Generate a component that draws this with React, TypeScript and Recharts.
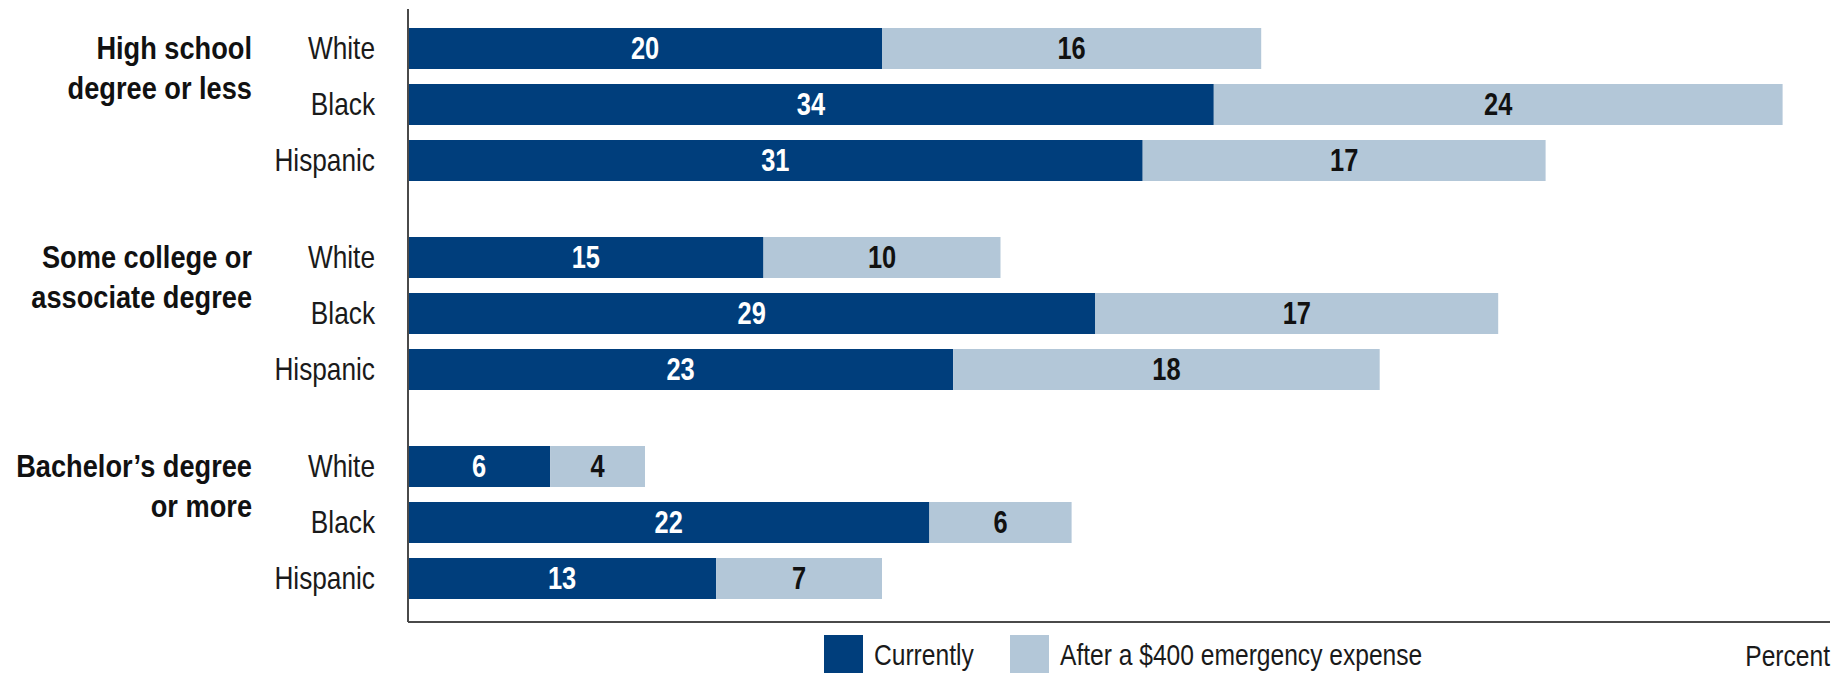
import React from 'react'
import { BarChart, Bar, XAxis, YAxis, LabelList } from 'recharts'

// no narrow face installed, so the regular face is squeezed horizontally
const FONT = "'Liberation Sans', Arial, sans-serif"
const SQUEEZE = 0.82
const DARK = '#003E7C'
const LIGHT = '#B3C7D8'
const AXIS = '#4a4a4a'

const races = ['White', 'Black', 'Hispanic']
const groupTitles = [
  ['High school', 'degree or less'],
  ['Some college or', 'associate degree'],
  ['Bachelor’s degree', 'or more'],
]
const currently = [
  [20, 34, 31],
  [15, 29, 23],
  [6, 22, 13],
]
const afterExpense = [
  [16, 24, 17],
  [10, 17, 18],
  [4, 6, 7],
]
const seriesNames = ['Currently', 'After a $400 emergency expense']
const seriesColors = [DARK, LIGHT]
const xDomain = [0, 60]

const CHART_W = 1845
const AXIS_W = 408

function CondText({ x, y, anchor = 'start', size = 32, weight = 'normal', fill = '#1a1a1a', squeeze = SQUEEZE, children }: any) {
  return (
    <text transform={`translate(${x},${y}) scale(${squeeze},1)`} dy="0.35em" textAnchor={anchor}
          fontSize={size} fontWeight={weight} fontFamily={FONT} fill={fill}>
      {children}
    </text>
  )
}

function RowTick(props: any) {
  const { x, y, payload, index, title } = props
  return (
    <g>
      <CondText x={x} y={y} anchor="end">{payload.value}</CondText>
      {index === 0 &&
        title.map((line: string, i: number) => (
          <CondText key={i} x={x - 123} y={y + i * 40} anchor="end" weight="bold" fill="#111" squeeze={0.85}>
            {line}
          </CondText>
        ))}
    </g>
  )
}

function BarValue(color: string) {
  return (p: any) => (
    <CondText x={p.x + p.width / 2} y={p.y + p.height / 2} anchor="middle" size={31} weight="bold" fill={color}>
      {p.value}
    </CondText>
  )
}

function PercentLabel({ viewBox }: any) {
  return (
    <CondText x={viewBox.x + viewBox.width} y={viewBox.y + 33} anchor="end" size={30}>
      Percent
    </CondText>
  )
}

function GroupChart({ g, top, height, marginTop, padBottom, last }: any) {
  const data = races.map((race, i) => ({
    race,
    currently: currently[g][i],
    after: afterExpense[g][i],
  }))
  return (
    <div style={{ position: 'absolute', left: 0, top }}>
      <BarChart width={CHART_W} height={height} data={data} layout="vertical"
                margin={{ top: marginTop, right: 15, bottom: 0, left: 0 }}>
        <XAxis type="number" domain={xDomain} hide={!last} tick={false} tickLine={false}
               axisLine={{ stroke: AXIS, strokeWidth: 2 }} height={last ? 52 : 0}
               label={last ? <PercentLabel /> : undefined} />
        <YAxis type="category" dataKey="race" width={AXIS_W} tickLine={false} tickSize={0} tickMargin={33}
               axisLine={{ stroke: AXIS, strokeWidth: 2 }} padding={{ top: 11, bottom: padBottom }}
               tick={(p: any) => <RowTick {...p} title={groupTitles[g]} />} />
        <Bar dataKey="currently" stackId="a" fill={DARK} barSize={41} isAnimationActive={false}>
          <LabelList dataKey="currently" content={BarValue('#fff')} />
        </Bar>
        <Bar dataKey="after" stackId="a" fill={LIGHT} barSize={41} isAnimationActive={false}>
          <LabelList dataKey="after" content={BarValue('#111')} />
        </Bar>
      </BarChart>
    </div>
  )
}

// legend swatch / label x positions
const legendX = [824, 1010]

export default function App() {
  return (
    <div style={{ position: 'absolute', left: 0, top: 0, width: CHART_W, height: 674, background: '#fff' }}>
      <GroupChart g={0} top={0} height={218} marginTop={9} padBottom={30} last={false} />
      <GroupChart g={1} top={218} height={209} marginTop={0} padBottom={30} last={false} />
      <GroupChart g={2} top={427} height={247} marginTop={0} padBottom={16} last={true} />
      <svg style={{ position: 'absolute', left: 0, top: 635 }} width={CHART_W} height={39}>
        {seriesNames.map((name, i) => (
          <g key={name}>
            <rect x={legendX[i]} y={0} width={39} height={38} fill={seriesColors[i]} />
            <CondText x={legendX[i] + 50} y={19} size={30}>{name}</CondText>
          </g>
        ))}
      </svg>
    </div>
  )
}
